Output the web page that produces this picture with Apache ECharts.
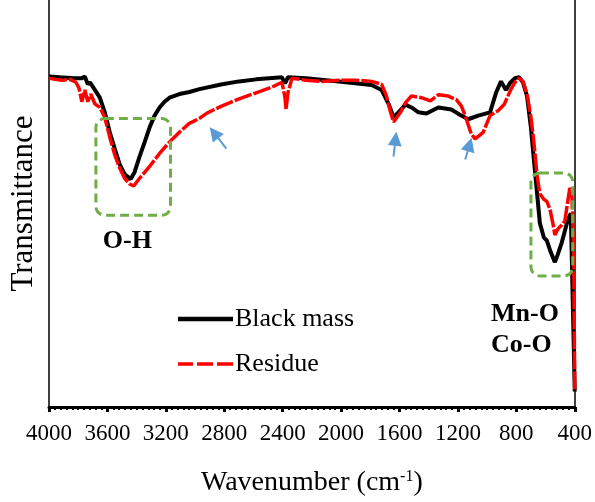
<!DOCTYPE html>
<html><head><meta charset="utf-8">
<script src="https://cdn.jsdelivr.net/npm/echarts@6/dist/echarts.min.js"></script>
<style>html,body{margin:0;padding:0;background:#fff}#c{width:595px;height:502px}</style>
</head><body><div id="c"></div>
<script>
// Wavenumber (cm-1) and transmittance (arbitrary units)
const wnBlack = [4000,3925,3823,3775,3755,3734,3720,3686,3652,3618,3584,3550,3516,3482,3441,3414,3380,3345,3311,3277,3243,3209,3175,3107,3039,2970,2814,2698,2582,2405,2384,2364,2241,2016,1791,1723,1675,1641,1607,1559,1518,1470,1416,1334,1245,1177,1130,1061,980,939,905,871,843,809,782,755,727,700,680,659,639,611,591,564,536,516,489,448,427,400];
const tBlack  = [81.2,81.0,80.8,80.8,81.2,79.3,79.8,77.9,76.0,72.4,67.5,63.5,59.6,57.2,56.0,57.7,61.5,65.1,68.7,71.6,73.6,75.0,76.0,76.9,77.4,78.1,79.3,80.0,80.5,81.0,79.5,81.0,80.8,80.0,79.1,77.9,74.5,71.2,72.4,74.3,73.6,72.4,72.1,73.6,73.1,71.6,70.7,71.6,72.4,77.2,80.0,77.9,79.6,80.8,81.0,79.8,76.4,68.7,60.8,52.9,45.2,41.6,40.9,38.0,35.6,37.5,40.4,45.9,47.6,3.8];
const wnRed = [4000,3959,3911,3857,3816,3795,3775,3755,3734,3714,3686,3652,3618,3584,3550,3516,3482,3448,3420,3380,3311,3243,3175,3107,3039,2970,2923,2868,2814,2698,2582,2473,2405,2384,2377,2364,2336,2241,2132,2016,1900,1791,1723,1689,1661,1641,1593,1559,1518,1450,1389,1334,1266,1211,1177,1150,1109,1082,1027,980,925,884,836,809,782,755,727,700,680,659,639,611,591,570,550,536,516,489,468,448,434,420,407,400];
const tRed  = [80.8,80.5,80.3,80.5,79.8,78.4,75.0,77.9,75.0,76.9,74.5,73.6,71.2,66.3,62.0,58.7,56.2,54.8,54.3,56.2,59.1,62.3,65.1,67.5,69.7,70.9,72.1,73.1,74.0,75.7,77.2,78.6,79.8,76.0,73.1,77.2,80.8,80.3,80.0,80.3,80.3,80.0,79.3,76.4,72.4,70.0,72.4,74.8,76.4,76.0,75.2,76.7,76.4,75.5,74.0,71.6,67.1,65.9,67.5,71.6,72.8,74.3,78.1,79.8,80.8,80.0,76.9,71.2,65.1,57.2,52.4,51.0,50.5,48.6,45.2,42.3,43.7,44.7,45.7,50.5,53.8,52.9,37.5,3.8];
const seriesNames = ['Black mass', 'Residue'];
const xTicks = {min: 400, max: 4000, step: 400};
const FONT = '"Liberation Serif", "Times New Roman", serif';

const zip = (a, b) => a.map((v, i) => [v, b[i]]);
const chart = echarts.init(document.getElementById('c'), null, {renderer: 'canvas'});

chart.setOption({
  animation: false,
  backgroundColor: '#fff',
  grid: {left: 49, right: 18, top: 0, bottom: 86, containLabel: false},
  legend: {
    data: [
      {name: seriesNames[0], icon: 'path://M0,0h55v4.5h-55z'},
      {name: seriesNames[1], icon: 'path://M0,0h15v3.5h-15zM19,0h16v3.5h-16zM39,0h16v3.5h-16z'}
    ],
    orient: 'vertical', left: 173, top: 301,
    itemWidth: 55, itemHeight: 26, itemGap: 19, symbolKeepAspect: true,
    textStyle: {fontFamily: FONT, fontSize: 26, color: '#000', padding: [0, 0, 0, -3]}
  },
  xAxis: {
    type: 'value', inverse: true, min: xTicks.min, max: xTicks.max, interval: xTicks.step,
    name: '{a|Wavenumber (cm}{s|-1}{a|)}', nameLocation: 'middle', nameGap: 62,
    nameTextStyle: {rich: {a: {fontFamily: FONT, fontSize: 28, color: '#000'}, s: {fontFamily: FONT, fontSize: 16, color: '#000', verticalAlign: 'top', padding: [0, 0, 10, 0]}}},
    axisLine: {lineStyle: {color: '#000', width: 3}},
    axisTick: {show: true, length: 5, lineStyle: {color: '#000', width: 3}},
    minorTick: {show: true, splitNumber: 10, length: 3, lineStyle: {color: '#000', width: 2}},
    axisLabel: {fontFamily: FONT, fontSize: 23, color: '#000', margin: 15, formatter: v => String(v)},
    splitLine: {show: false}
  },
  yAxis: [{
    type: 'value', min: 0, max: 100,
    name: 'Transmittance', nameLocation: 'middle', nameGap: 10,
    nameTextStyle: {fontFamily: FONT, fontSize: 31, color: '#000'},
    axisLine: {show: true, lineStyle: {color: '#000', width: 1.5}},
    axisTick: {show: false}, axisLabel: {show: false}, splitLine: {show: false}
  }, {
    type: 'value', min: 0, max: 100, position: 'right',
    axisLine: {show: true, lineStyle: {color: '#000', width: 1.5}},
    axisTick: {show: false}, axisLabel: {show: false}, splitLine: {show: false}
  }],
  series: [{
    name: seriesNames[0], type: 'line', data: zip(wnBlack, tBlack), showSymbol: false, symbol: 'none',
    lineStyle: {color: '#000', width: 4}, itemStyle: {color: '#000'},
    markLine: {
      silent: true, symbol: ['none', 'triangle'], symbolSize: [14, 14],
      label: {show: false},
      lineStyle: {color: '#5B9BD5', width: 2, type: 'solid'},
      data: [
        [{coord: [2786, 63.5]}, {coord: [2870, 67.4]}],
        [{coord: [1641, 61.5]}, {coord: [1627, 65.9]}],
        [{coord: [1150, 60.8]}, {coord: [1120, 64.5]}]
      ]
    }
  }, {
    name: seriesNames[1], type: 'line', data: zip(wnRed, tRed), showSymbol: false, symbol: 'none',
    lineStyle: {color: '#FF0000', width: 3.5, type: [18, 2]}, itemStyle: {color: '#FF0000'}
  }]
});

function box(w1, v1, w2, v2) {
  const p1 = chart.convertToPixel({gridIndex: 0}, [w1, v1]);
  const p2 = chart.convertToPixel({gridIndex: 0}, [w2, v2]);
  return {
    type: 'rect', silent: true, z: 10,
    shape: {x: Math.min(p1[0], p2[0]), y: Math.min(p1[1], p2[1]), width: Math.abs(p2[0] - p1[0]), height: Math.abs(p2[1] - p1[1]), r: 9},
    style: {fill: 'none', stroke: '#70AD47', lineWidth: 3, lineDash: [9, 5]}
  };
}
function label(w, v, text, align) {
  const p = chart.convertToPixel({gridIndex: 0}, [w, v]);
  return {type: 'text', silent: true, z: 10, x: p[0], y: p[1],
    style: {text: text, fontFamily: FONT, fontSize: 26, fontWeight: 'bold', fill: '#000', align: align, verticalAlign: 'middle'}};
}
chart.setOption({graphic: [
  box(3679, 70.9, 3168, 47.1),
  box(700, 57.5, 414, 32.2),
  label(3632, 40.6, 'O-H', 'left'),
  label(973, 22.9, 'Mn-O', 'left'),
  label(973, 15.2, 'Co-O', 'left')
]});
</script></body></html>
